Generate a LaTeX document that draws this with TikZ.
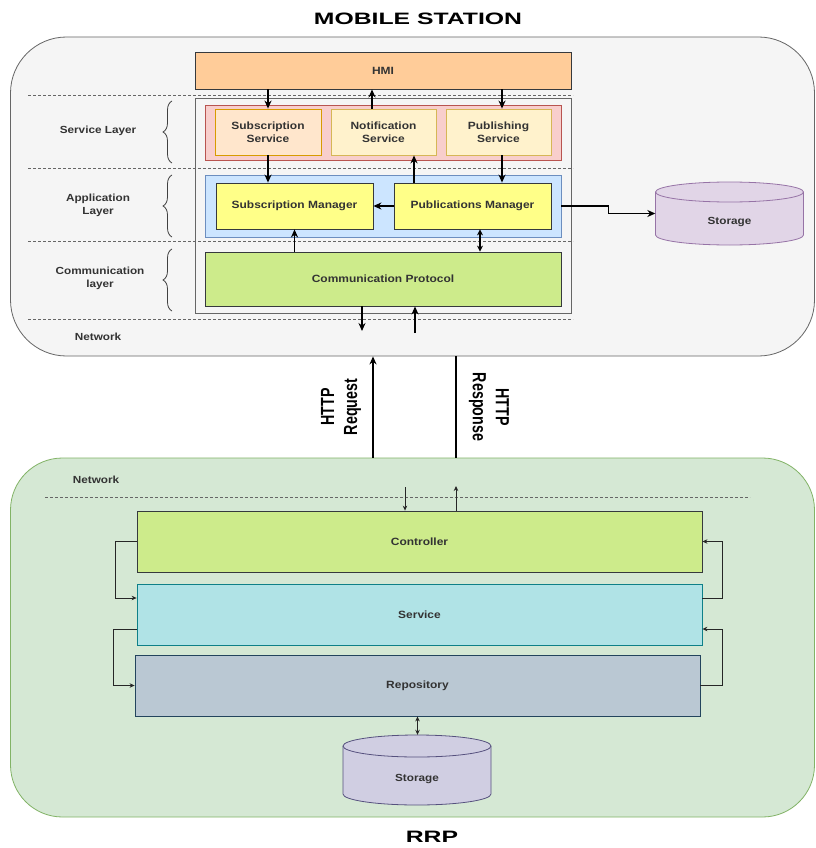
\documentclass[tikz,border=0pt]{standalone}
\usepackage{fontspec}
\setmainfont{Liberation Sans}
\newfontfamily\widefont[FakeStretch=1.14]{Liberation Sans}
\newfontfamily\titlefont[FakeStretch=1.5]{Liberation Sans}
\newfontfamily\narrowfont[FakeStretch=0.75]{Liberation Sans}
\usetikzlibrary{arrows.meta,decorations.pathreplacing}
\definecolor{msfill}{HTML}{F5F5F5}
\definecolor{msdraw}{HTML}{666666}
\definecolor{rrpfill}{HTML}{D5E8D4}
\definecolor{rrpdraw}{HTML}{82B366}
\definecolor{hmifill}{HTML}{FFCC99}
\definecolor{darkline}{HTML}{36393D}
\definecolor{pinkfill}{HTML}{F8CECC}
\definecolor{pinkdraw}{HTML}{B85450}
\definecolor{subfill}{HTML}{FFE6CC}
\definecolor{subdraw}{HTML}{D79B00}
\definecolor{yelfill}{HTML}{FFF2CC}
\definecolor{yeldraw}{HTML}{D6B656}
\definecolor{bluefill}{HTML}{CCE5FF}
\definecolor{bluedraw}{HTML}{6C8EBF}
\definecolor{mgrfill}{HTML}{FFFF88}
\definecolor{greenfill}{HTML}{CDEB8B}
\definecolor{purfill}{HTML}{E1D5E7}
\definecolor{purdraw}{HTML}{9673A6}
\definecolor{servfill}{HTML}{B0E3E6}
\definecolor{servdraw}{HTML}{0E8088}
\definecolor{repofill}{HTML}{BAC8D3}
\definecolor{repodraw}{HTML}{23445D}
\definecolor{st2fill}{HTML}{D0CEE2}
\definecolor{st2draw}{HTML}{56517E}
\definecolor{txt}{HTML}{333333}
\newcommand\mycyl[7]{%
  \filldraw[fill=#6,draw=#7,line width=0.8pt]
    ({#1-#3},{#2-#4+#5}) -- ({#1-#3},{#2+#4-#5})
    arc[start angle=180,end angle=0,x radius=#3,y radius=#5]
    -- ({#1+#3},{#2-#4+#5})
    arc[start angle=0,end angle=-180,x radius=#3,y radius=#5] -- cycle;
  \draw[draw=#7,line width=0.8pt] ({#1-#3},{#2-#4+#5})
    arc[start angle=180,end angle=0,x radius=#3,y radius=#5];
}
\begin{document}
\begin{tikzpicture}[x=1pt,y=-1pt,
  box/.style={draw=darkline,line width=0.8pt,inner sep=0pt,align=center,
    text=txt,font=\widefont\bfseries\fontsize{10.5}{12.5}\selectfont},
  lbl/.style={inner sep=0pt,align=center,text=txt,
    font=\widefont\bfseries\fontsize{10.3}{13}\selectfont},
  ttl/.style={inner sep=0pt,font=\titlefont\bfseries\fontsize{16.5}{19}\selectfont},
  http/.style={inner sep=0pt,align=center,text=black,
    font=\narrowfont\bfseries\fontsize{19}{23}\selectfont},
  arr/.style={-{Stealth[length=8pt,width=7pt]},line width=1.4pt,draw=black},
  darr/.style={{Stealth[length=6pt,width=6pt]}-{Stealth[length=6pt,width=6pt]},line width=1.4pt,draw=black},
  tarr/.style={-{Stealth[length=5pt,width=4.5pt]},line width=0.8pt,draw=black!85},
  tdarr/.style={{Stealth[length=5pt,width=4.5pt]}-{Stealth[length=5pt,width=4.5pt]},line width=1pt,draw=black!85},
  dline/.style={dash pattern=on 3pt off 2pt,draw=msdraw,line width=0.8pt},
  brc/.style={decorate,decoration={brace,amplitude=9pt},draw=black!75,line width=0.8pt}]
\useasboundingbox (0,0) rectangle (815,848);
\fill[white] (0,0) rectangle (815,848);

% titles
\node[ttl] (t1) at (418,19) {MOBILE STATION};
\node[ttl] (t2) at (432,837) {RRP};

% big containers
\node[draw=msdraw,fill=msfill,line width=0.8pt,rounded corners=56pt,
  minimum width=804pt,minimum height=319pt,inner sep=0pt] (ms) at (412.5,196.5) {};
\node[draw=rrpdraw,fill=rrpfill,line width=0.8pt,rounded corners=52pt,
  minimum width=804pt,minimum height=359pt,inner sep=0pt] (rrp) at (412.5,637.5) {};

% mobile station internals
\node[draw=msdraw,line width=0.6pt,minimum width=376pt,minimum height=215pt,inner sep=0pt] (inner) at (383,205.5) {};
\draw[dline] (28,95) -- (573,95);
\draw[dline] (28,168) -- (573,168);
\draw[dline] (28,241) -- (573,241);
\draw[dline] (28,319) -- (573,319);

\node[box,fill=hmifill,minimum width=376pt,minimum height=37pt] (hmi) at (383,70.5) {HMI};
\node[box,draw=pinkdraw,fill=pinkfill,minimum width=356pt,minimum height=55pt] (svl) at (383,132.5) {};
\node[box,draw=subdraw,fill=subfill,minimum width=106pt,minimum height=46pt] (subsvc) at (268,132) {Subscription\\Service};
\node[box,draw=yeldraw,fill=yelfill,minimum width=105pt,minimum height=46pt] (notsvc) at (383.5,132) {Notification\\Service};
\node[box,draw=yeldraw,fill=yelfill,minimum width=105pt,minimum height=46pt] (pubsvc) at (498.5,132) {Publishing\\Service};

\node[box,draw=bluedraw,fill=bluefill,minimum width=356pt,minimum height=62pt] (app) at (383,206) {};
\node[box,fill=mgrfill,minimum width=157pt,minimum height=46pt] (submgr) at (294.5,206) {Subscription Manager};
\node[box,fill=mgrfill,minimum width=157pt,minimum height=46pt] (pubmgr) at (472.5,206) {Publications Manager};

\node[box,fill=greenfill,minimum width=356pt,minimum height=54pt] (comm) at (383,279) {Communication Protocol};

% storage 1
\mycyl{729.5}{213.5}{74}{31.5}{10}{purfill}{purdraw}
\node[inner sep=0pt,minimum width=148pt,minimum height=63pt] (st1) at (729.5,213.5) {};
\node[lbl] (st1t) at (729.5,222) {Storage};

% left labels
\node[lbl] (l1) at (98,131) {Service Layer};
\node[lbl] (l2) at (98,205) {Application\\Layer};
\node[lbl] (l3) at (100,278) {Communication\\layer};
\node[lbl] (l4) at (98,337) {Network};
\draw[brc] (172,163) -- (172,101);
\draw[brc] (172,237) -- (172,175);
\draw[brc] (172,311) -- (172,249);

% coordinates for arrow columns
\coordinate (xN) at (372,0);
\coordinate (xP) at (502,0);
\coordinate (xU) at (414,0);
\coordinate (xD) at (480,0);
\coordinate (outD) at (362,331);
\coordinate (inU) at (415,333);

% top arrows
\draw[arr] (subsvc.north |- hmi.south) -- (subsvc.north);
\draw[arr] (notsvc.north -| xN) -- (hmi.south -| xN);
\draw[arr] (hmi.south -| xP) -- (pubsvc.north -| xP);
\draw[arr] (subsvc.south) -- (subsvc.south |- submgr.north);
\draw[arr] (pubmgr.north -| xU) -- (notsvc.south -| xU);
\draw[arr] (pubsvc.south -| xP) -- (pubmgr.north -| xP);
\draw[arr] (pubmgr.west) -- (submgr.east);
\draw[arr] (submgr.south |- comm.north) -- (submgr.south);
\draw[darr] (pubmgr.south -| xD) -- (comm.north -| xD);
\draw[arr] (comm.south -| outD) -- (outD);
\draw[arr] (inU) -- (comm.south -| inU);
\draw[arr,line width=1.3pt] (app.east) -- ++(47,0) |- (st1.west);

% HTTP connections
\coordinate (xReq) at (373,0);
\coordinate (xRes) at (456,0);
\draw[arr] (rrp.north -| xReq) -- (ms.south -| xReq);
\draw[line width=1.4pt] (ms.south -| xRes) -- (rrp.north -| xRes);
\node[http,rotate=90] (req) at (341,407) {HTTP\\Request};
\node[http,rotate=-90] (res) at (489,407) {HTTP\\Response};

% RRP internals
\node[lbl] (l5) at (96,480) {Network};
\draw[dline] (45,497) -- (750,497);
\node[box,fill=greenfill,minimum width=565pt,minimum height=61pt] (ctrl) at (419.5,541.5) {Controller};
\node[box,draw=servdraw,fill=servfill,minimum width=565pt,minimum height=61pt] (serv) at (419.5,614.5) {Service};
\node[box,draw=repodraw,fill=repofill,minimum width=565pt,minimum height=61pt] (repo) at (417.5,685.5) {Repository};

\coordinate (nD) at (405,487);
\coordinate (nU) at (456,486);
\draw[tarr] (nD) -- (ctrl.north -| nD);
\draw[tarr] (ctrl.north -| nU) -- (nU);

\draw[tarr] (ctrl.west) -- ++(-21,0) |- ([yshift=16.5pt]serv.west);
\draw[tarr] ([yshift=-14.5pt]serv.west) -- ++(-23,0) |- (repo.west);
\draw[tarr] ([yshift=16.5pt]serv.east) -- ++(20,0) |- (ctrl.east);
\draw[tarr] (repo.east) -- ++(22,0) |- ([yshift=-14.5pt]serv.east);

% storage 2
\mycyl{417}{770}{74}{35}{11}{st2fill}{st2draw}
\node[inner sep=0pt,minimum width=148pt,minimum height=70pt] (st2) at (417,770) {};
\node[lbl] (st2t) at (417,779) {Storage};
\draw[tdarr] (repo.south) -- (repo.south |- st2.north);
\end{tikzpicture}
\end{document}
